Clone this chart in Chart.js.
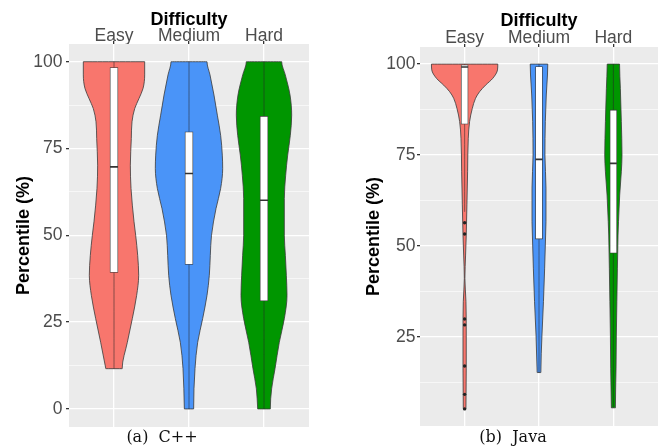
<!DOCTYPE html>
<html>
<head>
<meta charset="utf-8">
<script src="https://cdn.jsdelivr.net/npm/chart.js@4.4.0/dist/chart.umd.min.js"></script>
<style>
  body { margin: 0; background: #fff; width: 665px; height: 447px; overflow: hidden; position: relative; }
  .panel { position: absolute; top: 0; height: 447px; }
  .cap { position: absolute; top: 427px; width: 200px; text-align: center; line-height: 19px;
         font-family: "DejaVu Serif", "Liberation Serif", serif; font-size: 16px; color: #111; white-space: pre; }
</style>
</head>
<body>
<div class="panel" style="left:0;width:335px"><canvas id="cpp" width="335" height="447"></canvas></div>
<div class="panel" style="left:335px;width:330px"><canvas id="java" width="330" height="447"></canvas></div>
<div class="cap" style="left:62px">(a)  C++</div>
<div class="cap" style="left:413px">(b)  Java</div>
<script>
var categories = ["Easy", "Medium", "Hard"];
var colors = ["#F8766D", "#4A94F8", "#009600"];

// C++ panel: violin outline (percentile levels and half widths)
var cppEasyY = [11.6, 19.2, 26, 32.7, 38.5, 44.2, 50, 53.9, 63.5, 70.2, 77.9, 82.7, 86.5, 89.4, 92.3, 96.2, 100];
var cppEasyW = [0.109, 0.178, 0.244, 0.302, 0.329, 0.316, 0.289, 0.267, 0.227, 0.218, 0.231, 0.24, 0.276, 0.333, 0.387, 0.409, 0.409];
var cppMediumY = [0, 11.6, 19.2, 26, 32.7, 38.5, 44.2, 50, 57.7, 63.5, 69.2, 73.1, 78.8, 84.6, 90.4, 96.2, 100];
var cppMediumW = [0.062, 0.08, 0.116, 0.182, 0.24, 0.271, 0.284, 0.3, 0.36, 0.422, 0.449, 0.444, 0.422, 0.378, 0.333, 0.28, 0.24];
var cppHardY = [0, 5.8, 11.6, 19.2, 26, 32.7, 38.5, 44.2, 50, 55, 60.6, 67.3, 73.1, 78.8, 84.6, 90.4, 96.2, 100];
var cppHardW = [0.084, 0.102, 0.147, 0.204, 0.271, 0.307, 0.298, 0.285, 0.271, 0.271, 0.271, 0.289, 0.316, 0.351, 0.369, 0.347, 0.284, 0.236];

// C++ boxplots
var cppLow = [11.6, 0, 0];
var cppQ1 = [39.3, 41.6, 31.1];
var cppMedian = [69.7, 67.8, 60.1];
var cppQ3 = [98.3, 79.8, 84.3];
var cppHigh = [100, 100, 100];

// Java panel
var javaEasyY = [5.2, 16.4, 25.5, 34.7, 41.1, 47.5, 53, 61.3, 70.4, 79.6, 84.2, 87.8, 90.6, 92.4, 94.2, 96.1, 98.4, 100];
var javaEasyW = [0.018, 0.022, 0.022, 0.018, 0.004, 0.013, 0.022, 0.031, 0.04, 0.049, 0.067, 0.103, 0.147, 0.201, 0.281, 0.379, 0.442, 0.446];
var javaMediumY = [15.2, 25.5, 34.7, 43.9, 53, 56.7, 65.9, 75, 84.2, 91.5, 97, 100];
var javaMediumW = [0.025, 0.04, 0.06, 0.076, 0.089, 0.094, 0.094, 0.08, 0.085, 0.098, 0.114, 0.118];
var javaHardY = [5.5, 16.4, 25.5, 34.7, 43.9, 53, 56.7, 64, 70.4, 75, 84.2, 93.3, 100];
var javaHardW = [0.027, 0.036, 0.04, 0.047, 0.054, 0.0625, 0.069, 0.085, 0.107, 0.116, 0.107, 0.094, 0.083];

var javaLow = [59.4, 15.2, 5.5];
var javaQ1 = [83.5, 51.9, 48];
var javaMedian = [99.2, 73.8, 72.7];
var javaQ3 = [99.8, 99.3, 87.4];
var javaHigh = [100, 100, 100];
var javaEasyOutliers = [56.4, 53.3, 29.9, 28.3, 17, 9.2, 5.2];

var cppTicks = [0, 12.5, 25, 37.5, 50, 62.5, 75, 87.5, 100];
var javaTicks = [12.5, 25, 37.5, 50, 62.5, 75, 87.5, 100];

Chart.defaults.font.family = "'Liberation Sans', Arial, sans-serif";

// tiny tension keeps Chart.js off its x-sorted fast path for the box lines
var TENSION = 0.000001;

var plotBg = {
  id: "plotBg",
  beforeDraw: function(chart) {
    var a = chart.chartArea, ctx = chart.ctx;
    ctx.save();
    ctx.fillStyle = "#EBEBEB";
    ctx.fillRect(a.left, a.top, a.right - a.left, a.bottom - a.top);
    ctx.restore();
  }
};

function violinPoints(center, ys, ws) {
  var left = ys.map(function(y, i) { return {x: center - ws[i], y: y}; });
  var right = ys.map(function(y, i) { return {x: center + ws[i], y: y}; }).reverse();
  return left.concat(right, [left[0]]);
}

function makePanel(id, p) {
  var datasets = [];
  for (var i = 0; i < 3; i++) {
    // smooth the outline along the percentile axis
    datasets.push({
      type: "line", indexAxis: "y", cubicInterpolationMode: "monotone",
      data: violinPoints(i + 1, p.ys[i], p.ws[i]), fill: "shape",
      backgroundColor: colors[i], borderColor: "#3a3a3a", borderWidth: 0.8,
      pointRadius: 0, order: 5
    });
  }
  var whisk = [], med = [], boxes = [];
  for (var j = 0; j < 3; j++) {
    var c = j + 1;
    whisk.push({x: c, y: p.high[j]}, {x: c, y: p.q3[j]}, {x: c, y: null},
               {x: c, y: p.q1[j]}, {x: c, y: p.low[j]}, {x: c, y: null});
    med.push({x: c - p.hw, y: p.median[j]}, {x: c + p.hw, y: p.median[j]}, {x: c + p.hw, y: null});
    boxes.push({x: c, y: [p.q1[j], p.q3[j]]});
  }
  datasets.push({type: "line", data: whisk, borderColor: "rgba(40,40,40,0.6)", borderWidth: 0.9,
                 pointRadius: 0, fill: false, spanGaps: false, tension: TENSION, order: 4});
  datasets.push({type: "bar", data: boxes, backgroundColor: "#fff", borderColor: "#3a3a3a",
                 borderWidth: 0.8, borderSkipped: false, barThickness: p.box, order: 3});
  datasets.push({type: "line", data: med, borderColor: "#333", borderWidth: 1.6,
                 pointRadius: 0, fill: false, spanGaps: false, tension: TENSION, order: 2});
  if (p.outliers) {
    datasets.push({type: "line", showLine: false, order: 1,
                   data: p.outliers.map(function(v) { return {x: 1, y: v}; }),
                   pointRadius: 1.7, pointBackgroundColor: "#222", pointBorderWidth: 0});
  }

  return new Chart(document.getElementById(id), {
    type: "line",
    data: {datasets: datasets},
    plugins: [plotBg],
    options: {
      responsive: false, animation: false, events: [],
      layout: {padding: {left: 0, top: 0, right: p.padRight, bottom: p.padBottom}},
      plugins: {legend: {display: false}, tooltip: {enabled: false}},
      scales: {
        x: {
          type: "linear", position: "top", min: 0.4, max: 3.6, offset: false,
          afterBuildTicks: function(s) { s.ticks = [1, 2, 3].map(function(v) { return {value: v}; }); },
          afterFit: function(s) { s.height = p.top; },
          ticks: {callback: function(v) { return categories[v - 1]; }, color: "#4d4d4d",
                  font: {size: 17.5}, padding: p.xPad, maxRotation: 0, autoSkip: false},
          grid: {color: "#fff", lineWidth: 1.3, tickColor: "#333", tickLength: 3, offset: false},
          border: {display: false},
          title: {display: true, text: "Difficulty", color: "#000",
                  font: {size: 18, weight: "bold"}, padding: {top: p.titlePad, bottom: 0}}
        },
        y: {
          type: "linear", min: p.yMin, max: p.yMax,
          afterBuildTicks: function(s) { s.ticks = p.ticks.map(function(v) { return {value: v}; }); },
          afterFit: function(s) { s.width = p.left; },
          ticks: {callback: function(v) { return v % 25 === 0 ? String(v) : ""; }, color: "#4d4d4d",
                  font: {size: 17.5}, padding: p.yPad, autoSkip: false},
          grid: {
            color: "#fff",
            lineWidth: function(ctx) { return ctx.tick && ctx.tick.value % 25 === 0 ? 1.3 : 0.6; },
            tickColor: function(ctx) { return ctx.tick && ctx.tick.value % 25 === 0 ? "#333" : "rgba(0,0,0,0)"; },
            tickLength: 3
          },
          border: {display: false},
          title: {display: true, text: "Percentile (%)", color: "#000",
                  font: {size: 18, weight: "bold"}, padding: {top: p.yTitlePad, bottom: 0}}
        }
      }
    }
  });
}

makePanel("cpp", {
  ys: [cppEasyY, cppMediumY, cppHardY], ws: [cppEasyW, cppMediumW, cppHardW],
  low: cppLow, q1: cppQ1, median: cppMedian, q3: cppQ3, high: cppHigh,
  ticks: cppTicks, yMin: -5.2, yMax: 105.1, hw: 0.053, box: 8,
  top: 44, left: 69, padRight: 26, padBottom: 20,
  xPad: -5.5, titlePad: 9, yPad: 3.5, yTitlePad: 13.7
});

makePanel("java", {
  ys: [javaEasyY, javaMediumY, javaHardY], ws: [javaEasyW, javaMediumW, javaHardW],
  low: javaLow, q1: javaQ1, median: javaMedian, q3: javaQ3, high: javaHigh,
  outliers: javaEasyOutliers,
  ticks: javaTicks, yMin: 0.5, yMax: 104.7, hw: 0.047, box: 7,
  top: 47, left: 85, padRight: 7, padBottom: 21,
  xPad: -4.8, titlePad: 10.5, yPad: 1.5, yTitlePad: 28.7
});
</script>
</body>
</html>
